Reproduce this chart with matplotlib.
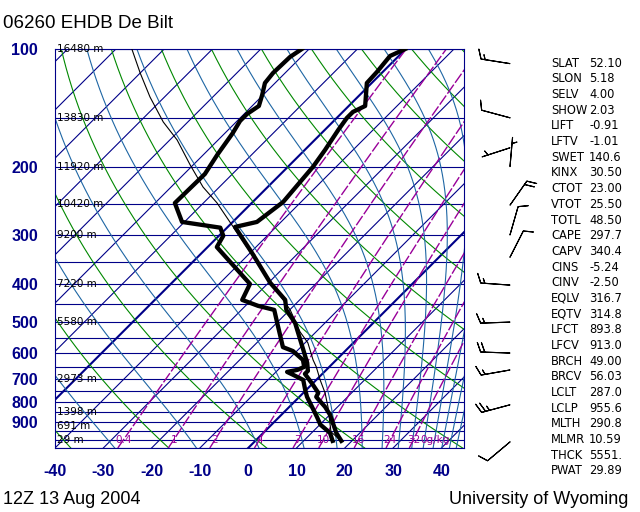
import numpy as np
import matplotlib
matplotlib.use("Agg")
import matplotlib.pyplot as plt
from matplotlib.transforms import Affine2D
from matplotlib.ticker import NullLocator

plt.rcParams['axes.unicode_minus'] = False
plt.rcParams['font.family'] = ['Liberation Sans', 'DejaVu Sans']

# ---------------- data ----------------
temp_p = [100, 104.2, 114.5, 122.2, 139.9, 144.9, 150.2, 161.2, 181.3, 200.4, 246.3, 277.1, 285.4,
          332.6, 396.9, 438.7, 465.3, 502.3, 589.0, 635.9, 666.6, 678.4, 719.6, 758.8, 776.9,
          824.0, 863.8, 910.8, 960.4, 1006.8]
temp_c = [-50.1, -51.8, -51.2, -51.0, -46.6, -47.9, -47.9, -47.2, -45.8, -44.8, -43.7, -45.0, -48.5,
          -39.6, -29.6, -23.0, -20.7, -16.2, -8.9, -5.4, -3.6, -3.6, 0.0, 3.1, 3.5,
          7.4, 10.1, 12.6, 15.1, 17.8]

dwpt_p = [100, 104.8, 115.2, 122.2, 131.1, 139.9, 146.7, 152.8, 164.1, 186.6, 208.9, 247.9, 277.1,
          286.6, 300.6, 321.3, 399.3, 438.7, 454.3, 465.3, 502.3, 579.4, 593.1, 624.9, 651.0,
          662.7, 670.6, 682.5, 703.0, 745.2, 776.9, 824.0, 874.3, 914.9, 960.4, 1006.8]
dwpt_c = [-71.5, -72.3, -72.5, -72.1, -70.2, -68.6, -69.4, -69.4, -68.4, -67.1, -65.7, -65.9, -60.5,
          -51.4, -49.1, -48.1, -33.6, -31.9, -27.4, -23.2, -19.9, -13.7, -10.8, -6.9, -5.2,
          -6.0, -7.7, -5.8, -2.7, -0.25, 1.6, 4.7, 7.8, 10.1, 13.8, 16.0]

parcel_p = [1006.8, 954.8, 824.0, 758.8, 703.0, 651.0, 624.9, 565.2, 529.7, 465.3, 383.1, 277.1,
            247.7, 225.5, 198.1, 170.9, 153.7, 143.2, 132.7, 115.2, 100]
parcel_c = [17.8, 13.8, 8.0, 4.5, 0.8, -2.7, -4.8, -9.4, -13.3, -19.9, -31.5, -50.6,
            -57.2, -63.4, -70.6, -78.5, -85.1, -88.9, -93.0, -100.0, -106.7]

wind_p = [109, 150, 179, 200, 251, 299, 341, 402, 500, 600, 663, 814, 1013]
wind_dir = [279, 285, 252, 5, 35, 16, 27, 274, 268, 272, 260, 255, 230]
wind_kt = [15, 10, 5, 5, 20, 10, 10, 15, 15, 20, 15, 25, 10]

height_p = [100, 150, 200, 250, 300, 400, 500, 700, 850, 925, 1000]
height_lbl = ['16480 m', '13830 m', '11920 m', '10420 m', '9200 m', '7220 m', '5580 m',
              '2973 m', '1398 m', '691 m', '29 m']

mixr_gkg = [0.4, 1, 2, 4, 7, 10, 16, 24, 32]
mixr_lbl = ['0.4', '1', '2', '4', '7', '10', '16', '24', '32']
mixr_unit = '0g/kg'

pres_ticks = [100, 200, 300, 400, 500, 600, 700, 800, 900]
temp_ticks = [-40, -30, -20, -10, 0, 10, 20, 30, 40]

index_names = ['SLAT', 'SLON', 'SELV', 'SHOW', 'LIFT', 'LFTV', 'SWET', 'KINX', 'CTOT', 'VTOT',
               'TOTL', 'CAPE', 'CAPV', 'CINS', 'CINV', 'EQLV', 'EQTV', 'LFCT', 'LFCV', 'BRCH',
               'BRCV', 'LCLT', 'LCLP', 'MLTH', 'MLMR', 'THCK', 'PWAT']
index_vals = ['52.10', '5.18', '4.00', '2.03', '-0.91', '-1.01', '140.6', '30.50', '23.00', '25.50',
              '48.50', '297.7', '340.4', '-5.24', '-2.50', '316.7', '314.8', '893.8', '913.0', '49.00',
              '56.03', '287.0', '955.6', '290.8', '10.59', '5551.', '29.89']

# ---------------- styling ----------------
W, H = 640, 512
NAVY = '#000088'
GREEN = '#008800'
MOIST = '#1e66a4'
PURPLE = '#990099'
PX = 0.8  # about one pixel in points

fig = plt.figure(figsize=(W / 100, H / 100), dpi=100)
L, R, TOP, BOT = 55, 464, 49, 448
ax = fig.add_axes([L / W, 1 - BOT / H, (R - L) / W, (BOT - TOP) / H])
ax.set_yscale('log')
ax.set_ylim(1050, 100)
ax.set_xlim(-40, -40 + (R - L) / 4.83)

ybot = ax.transAxes.transform((0, 0))[1]
skew = Affine2D().translate(0, -ybot).skew_deg(45, 0).translate(0, ybot)
trans = ax.transData + skew

pg = np.geomspace(1050, 100, 400)

# isobars
for p in range(100, 1051, 50):
    ax.axhline(p, color=NAVY, lw=PX, zorder=2)

# isotherms
for t in range(-130, 50, 10):
    lw = 1.9 * PX if t in (-50, 0) else PX
    ax.plot([t, t], [1050, 100], color=NAVY, lw=lw, transform=trans, zorder=2)

# dry adiabats
for th in np.arange(233.15, 480, 20):
    ax.plot(th * (pg / 1000.0) ** 0.2857 - 273.15, pg, color=GREEN, lw=PX, transform=trans, zorder=2)


def sat_theta_e(tk, p):
    tc = tk - 273.15
    es = 6.112 * np.exp(17.67 * tc / (tc + 243.5))
    ok = es < 0.8 * p
    r = np.where(ok, 622.0 * es / np.where(ok, p - es, 1.0), 0.0)
    th = tk * (1000.0 / p) ** (0.2854 * (1 - 0.28e-3 * r)) * \
        np.exp((3.376 / tk - 0.00254) * r * (1 + 0.81e-3 * r))
    return np.where(ok, th, np.inf)


def moist_t(the, p):
    lo = np.full_like(p, 120.0)
    hi = np.full_like(p, 345.0)
    for _ in range(50):
        mid = 0.5 * (lo + hi)
        big = sat_theta_e(mid, p) > the
        hi = np.where(big, mid, hi)
        lo = np.where(big, lo, mid)
    return 0.5 * (lo + hi) - 273.15


# moist adiabats
for the in np.arange(243.15, 510, 20):
    ax.plot(moist_t(the, pg), pg, color=MOIST, lw=PX, transform=trans, zorder=2)


def mixr_t(r, p):
    e = r * p / (622.0 + r)
    a = np.log(e / 6.112)
    return 243.5 * a / (17.67 - a)


# mixing ratio lines
for r in mixr_gkg:
    ax.plot(mixr_t(r, pg), pg, color=PURPLE, lw=1.0, ls=(0, (8, 1.6)), transform=trans, zorder=2)
for r, lbl in zip(mixr_gkg, mixr_lbl):
    ax.text(mixr_t(r, 1000.0), 1000, lbl, transform=trans, ha='center', va='center',
            color=PURPLE, fontsize=7.5, family='DejaVu Sans', zorder=4)
ax.annotate(mixr_unit, xy=(mixr_t(mixr_gkg[-1], 1000.0), 1000), xycoords=trans,
            xytext=(4.9, 0), textcoords='offset points', ha='left', va='center',
            color=PURPLE, fontsize=7.5, family='DejaVu Sans', zorder=4)

# profiles
ax.plot(parcel_c, parcel_p, color='black', lw=PX, transform=trans, zorder=5)
ax.plot(temp_c, temp_p, color='black', lw=3.1, transform=trans, zorder=6)
ax.plot(dwpt_c, dwpt_p, color='black', lw=3.1, transform=trans, zorder=6)

# height labels
for p, lbl in zip(height_p, height_lbl):
    ax.text(0.004, p, lbl, transform=ax.get_yaxis_transform(), ha='left', va='center',
            fontsize=7.5, family='DejaVu Sans', color='black', zorder=7)

# axes cosmetics
for s in ax.spines.values():
    s.set_color(NAVY)
    s.set_linewidth(PX)
ax.yaxis.set_minor_locator(NullLocator())
ax.set_yticks(pres_ticks)
ax.set_yticklabels([str(p) for p in pres_ticks])
ax.set_xticks(temp_ticks)
ax.set_xticklabels([str(t) for t in temp_ticks])
ax.tick_params(axis='both', length=0, labelsize=11.5, labelcolor=NAVY)
ax.tick_params(axis='y', pad=12.2)
ax.tick_params(axis='x', pad=11.5)
for lb in ax.get_xticklabels() + ax.get_yticklabels():
    lb.set_fontweight('bold')

# wind barbs
ax2 = fig.add_axes([470 / W, 1 - BOT / H, 70 / W, (BOT - TOP) / H])
ax2.set_yscale('log')
ax2.set_ylim(1050, 100)
ax2.set_xlim(470, 540)
ax2.axis('off')
wd = np.deg2rad(wind_dir)
ws = np.array(wind_kt, dtype=float)
u = -ws * np.sin(wd)
v = -ws * np.cos(wd)
ax2.barbs(np.full(len(wind_p), 510.0), wind_p, u, v, length=6.5, lw=PX, color='black',
          sizes=dict(height=0.32, spacing=0.14, width=0.25), clip_on=False)

# titles
fig.text(3 / W, 1 - 23 / H, '06260 EHDB De Bilt', fontsize=13.5, va='center', ha='left')
fig.text(3 / W, 1 - 500 / H, '12Z 13 Aug 2004', fontsize=13, va='center', ha='left')
fig.text(628 / W, 1 - 500 / H, 'University of Wyoming', fontsize=13, va='center', ha='right')

# stability indices
for i, (nm, vl) in enumerate(zip(index_names, index_vals)):
    yy = 63.3 + i * 15.67
    fig.text(551 / W, 1 - yy / H, nm, fontsize=8.3, family='DejaVu Sans', va='center', ha='left')
    fig.text(589 / W, 1 - yy / H, vl, fontsize=8.3, family='DejaVu Sans', va='center', ha='left')

fig.savefig('out.png', dpi=100)
